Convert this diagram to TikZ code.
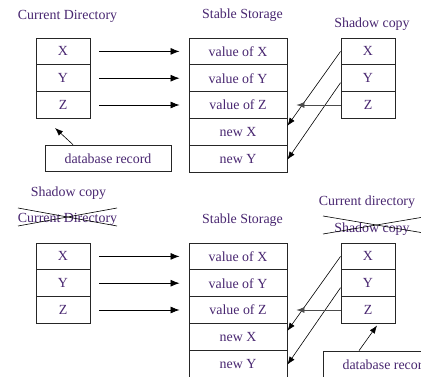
\documentclass[tikz,border=0pt]{standalone}
\usepackage{fontspec}
\setmainfont{Liberation Serif}
\usetikzlibrary{arrows.meta}
\definecolor{ink}{RGB}{72,38,112}
\begin{document}
\begin{tikzpicture}[x=1pt,y=-1pt,
  txt/.style={text=ink, font=\fontsize{13.9}{16}\selectfont},
  cell/.style={txt, draw=black!85, line width=0.9pt, minimum width=54pt,
    minimum height=26.8pt, inner sep=0pt},
  store/.style={cell, minimum width=98pt},
  dbbox/.style={cell, minimum width=126pt},
  title/.style={txt, anchor=base, inner sep=0pt},
  arr/.style={-{Latex[length=9pt,width=7pt]}, line width=0.8pt},
  ptr/.style={-{Latex[length=8pt,width=6pt]}, line width=0.6pt},
  strike/.style={line width=0.6pt}]

\useasboundingbox (0,0) rectangle (421,377);
\clip (0,0) rectangle (421,377);

% ---------------- before commit ----------------
\node[title] (cdT) at (67.5,19.3) {Current Directory};
\node[title] (ssT) at (242.5,19) {Stable Storage};
\node[title] (scT) at (372,27.8) {Shadow copy};

\node[cell] (cX) at (63,51.4) {X};
\node[cell] (cY) at (63,78.2) {Y};
\node[cell] (cZ) at (63,105) {Z};

\node[store] (vX) at (238,51.4) {value of X};
\node[store] (vY) at (238,78.2) {value of Y};
\node[store] (vZ) at (238,105) {value of Z};
\node[store] (nX) at (238,131.8) {new X};
\node[store] (nY) at (238,158.6) {new Y};

\node[cell] (sX) at (368,51.4) {X};
\node[cell] (sY) at (368,78.2) {Y};
\node[cell] (sZ) at (368,105) {Z};

\node[dbbox] (db) at (108,158.5) {database record};

\foreach \a/\b in {cX/vX, cY/vY, cZ/vZ}
  \draw[arr, shorten <=9pt, shorten >=9pt] (\a.east) -- (\b.west);

\draw[ptr] (sX.west) -- ([yshift=6pt]nX.east);
\draw[ptr] ([yshift=-4.5pt]sY.west) -- ([yshift=-1pt]nY.east);
\draw[ptr, draw=black!70, shorten >=9pt] (sZ.west) -- (vZ.east);

\coordinate (dbTip) at (55,128);
\draw[ptr] ([xshift=-35pt]db.north) -- (dbTip);

% ---------------- after commit ----------------
\node[title] (scB) at (68.5,197) {Shadow copy};
\node[title] (cdB) at (67.5,223) {Current Directory};
\node[title] (ssB) at (242.5,224) {Stable Storage};
\node[title] (cdR) at (367,206) {Current directory};
\node[title] (scR) at (372,233) {Shadow copy};

\draw[strike] (18,208) -- (117,226);
\draw[strike] (18,226) -- (117,208);
\draw[strike] (323,216) -- (431,234.2);
\draw[strike] (323,234) -- (431,215.8);

\node[cell] (cX2) at (63,256.4) {X};
\node[cell] (cY2) at (63,283.2) {Y};
\node[cell] (cZ2) at (63,310) {Z};

\node[store] (vX2) at (238,256.4) {value of X};
\node[store] (vY2) at (238,283.2) {value of Y};
\node[store] (vZ2) at (238,310) {value of Z};
\node[store] (nX2) at (238,336.8) {new X};
\node[store] (nY2) at (238,363.6) {new Y};

\node[cell] (sX2) at (368,256.4) {X};
\node[cell] (sY2) at (368,283.2) {Y};
\node[cell] (sZ2) at (368,310) {Z};

\node[dbbox] (db2) at (386,364.5) {database record};

\foreach \a/\b in {cX2/vX2, cY2/vY2, cZ2/vZ2}
  \draw[arr, shorten <=9pt, shorten >=9pt] (\a.east) -- (\b.west);

\draw[ptr] (sX2.west) -- ([yshift=6pt]nX2.east);
\draw[ptr] ([yshift=-4.5pt]sY2.west) -- ([yshift=-1pt]nY2.east);
\draw[ptr, draw=black!70, shorten >=9pt] (sZ2.west) -- (vZ2.east);

\coordinate (db2Tip) at (377,325.5);
\draw[ptr] ([xshift=-27pt]db2.north) -- (db2Tip);
\end{tikzpicture}
\end{document}
